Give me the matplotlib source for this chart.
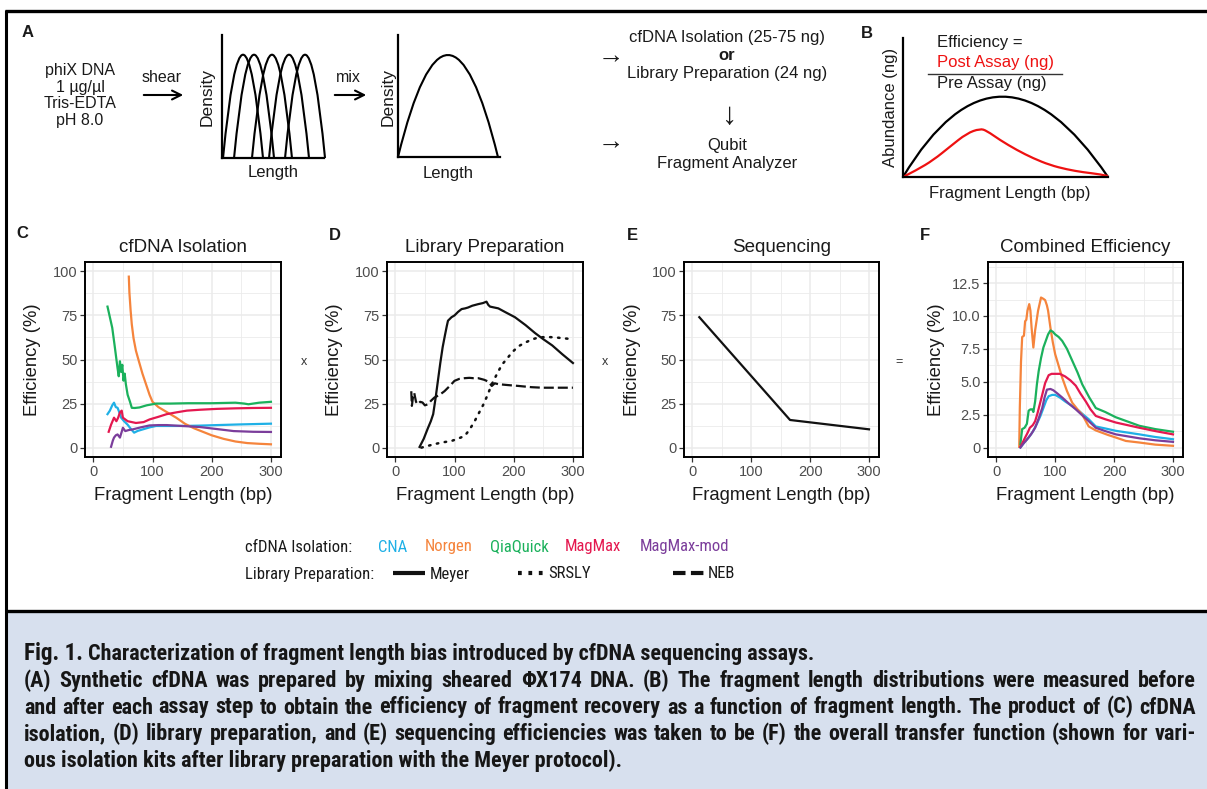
import numpy as np
import matplotlib
matplotlib.use('Agg')
import matplotlib.pyplot as plt
from matplotlib.path import Path
from matplotlib.patches import PathPatch, Rectangle
from matplotlib import font_manager as fm

# ---------------- data ----------------
iso_kits = ['CNA', 'Norgen', 'QiaQuick', 'MagMax', 'MagMax-mod']
iso_colors = ['#1fb0e6', '#f5843c', '#1bb15c', '#e4184f', '#7b3d9b']
lib_protocols = ['Meyer', 'SRSLY', 'NEB']

# Panel C: cfDNA isolation efficiency (%) vs fragment length (bp)
c_cna = [(24, 19), (28, 21), (32, 24), (35, 25.5), (38, 23), (41, 22.6), (44, 20), (47, 17), (52, 15),
         (58, 13), (64, 10.4), (69, 8.5), (75, 9.5), (84, 10.4), (95, 11.5), (106, 12.3), (130, 12.3),
         (152, 12.3), (180, 12.5), (209, 12.8), (250, 13.2), (300, 13.6)]
c_norgen = [(60, 97), (61, 88), (63, 78), (65, 70), (68, 62), (72, 55), (77, 49), (83, 42), (89, 36),
            (95, 30), (100, 26), (110, 23), (120, 21), (130, 19), (140, 17), (155, 13.5), (170, 11),
            (185, 9), (200, 7), (220, 5), (240, 3.5), (260, 2.6), (280, 2.2), (300, 1.9)]
c_qiaquick = [(24, 80), (28, 74), (32, 68), (36, 58), (41, 45), (43, 40.5), (45, 49), (47, 43), (49, 47),
              (51, 38), (53, 42), (55, 36), (58, 30), (62, 26), (65, 22.6), (70, 22.5), (78, 22.8),
              (90, 24), (106, 25), (130, 25), (160, 25.2), (200, 25.2), (240, 25.5), (255, 25),
              (262, 24.6), (280, 25.5), (300, 26)]
c_magmax = [(26, 9), (30, 13), (35, 17), (39, 15), (42, 17), (45, 20), (48, 21), (50, 17), (54, 16),
            (58, 15), (65, 14.5), (72, 14), (85, 14.5), (95, 16), (110, 17.5), (124, 19), (140, 20),
            (158, 21), (180, 21.5), (209, 22), (240, 22.3), (270, 22.5), (300, 22.6)]
c_magmaxmod = [(30, 0.5), (33, 4), (35, 5.7), (38, 7), (41, 7.5), (45, 5.7), (48, 9), (50, 11.3),
               (54, 9.4), (60, 10), (67, 10.4), (80, 11.5), (95, 12.6), (110, 12.8), (124, 12.8),
               (150, 12.3), (180, 11.7), (210, 10.5), (237, 9.4), (270, 9), (300, 8.9)]

# Panel D: library preparation efficiency (%)
d_meyer = [(41, 0.4), (48, 5), (55, 11), (60, 15), (64, 19), (68, 28), (72, 38), (76, 48), (80, 57),
           (84, 64), (87, 69), (89, 72), (95, 74), (100, 75), (106, 77), (112, 78.6), (118, 79),
           (123, 79.5), (130, 80.5), (140, 81.4), (148, 82), (154, 82.8), (157, 81), (160, 80),
           (167, 79.5), (174, 79), (185, 77), (202, 74), (220, 69.5), (236, 65), (250, 61.5),
           (265, 58), (282, 53), (300, 48)]
d_srsly = [(44, 0), (55, 1), (66, 2), (80, 3), (95, 3.8), (105, 5), (117, 6.6), (125, 10), (134, 15),
           (141, 19.5), (149, 24.6), (156, 30), (163, 36), (172, 42), (180, 47), (190, 51), (197, 54),
           (208, 57.5), (220, 59.7), (232, 61.5), (242, 62.5), (256, 62.8), (271, 62.5), (285, 62),
           (300, 61.5)]
d_neb = [(27, 32), (28, 23.7), (30, 29), (32, 31), (35, 26), (38, 24.6), (42, 26), (46, 25.6), (50, 24),
         (55, 24.6), (60, 26.5), (66, 28.4), (75, 30), (83, 32), (92, 35), (100, 37.9), (108, 39),
         (117, 39.4), (125, 39.6), (132, 39.4), (140, 39.4), (150, 38.5), (157, 37.5), (163, 35),
         (168, 36.5), (174, 36), (190, 35.5), (208, 35), (230, 34.3), (248, 34), (270, 34), (300, 34)]

# Panel E: sequencing efficiency (%)
e_seq = [(12, 74), (166, 15.7), (300, 10.4)]

# Panel F: combined efficiency (%)
f_cna = [(41, 0.0), (48, 0.4), (55, 0.76), (62, 1.2), (69, 1.8), (75, 2.4), (80, 3.0), (85, 3.6),
         (89, 3.9), (95, 4.0), (100, 4.0), (108, 3.8), (117, 3.5), (129, 3.15), (140, 2.8),
         (149, 2.45), (157, 2.15), (169, 1.6), (185, 1.45), (203, 1.27), (243, 1.0), (270, 0.8),
         (300, 0.63)]
f_norgen = [(39, 0.05), (40, 3.0), (42, 6.5), (44, 8.4), (47, 8.5), (49, 9.6), (51, 9.7), (53, 10.4),
            (56, 10.9), (58, 10.4), (60, 9.1), (63, 7.6), (66, 8.9), (69, 9.8), (71, 10.4), (74, 11.0),
            (76, 11.4), (80, 11.3), (83, 11.2), (86, 10.8), (88, 10.4), (92, 9.1), (96, 8.0),
            (100, 7.1), (106, 6.2), (112, 5.3), (120, 4.3), (129, 3.4), (138, 2.9), (146, 2.5),
            (157, 1.6), (169, 1.3), (175, 1.2), (190, 0.95), (203, 0.76), (220, 0.5), (243, 0.38),
            (270, 0.22), (300, 0.13)]
f_qiaquick = [(41, 0.25), (44, 1.4), (48, 1.5), (52, 1.8), (55, 2.8), (58, 2.9), (61, 2.9), (63, 2.7),
              (66, 3.5), (69, 4.8), (72, 5.8), (76, 6.8), (80, 7.6), (84, 8.1), (88, 8.6), (92, 8.9),
              (96, 8.8), (100, 8.6), (106, 8.4), (112, 8.1), (120, 7.5), (129, 6.6), (138, 5.7),
              (146, 4.8), (158, 3.8), (169, 3.0), (185, 2.7), (203, 2.3), (243, 1.65), (270, 1.4),
              (300, 1.2)]
f_magmax = [(41, 0.05), (45, 0.4), (49, 0.76), (53, 1.1), (57, 1.5), (62, 1.7), (66, 2.0), (70, 2.6),
            (74, 3.3), (78, 4.0), (83, 4.9), (89, 5.5), (94, 5.6), (100, 5.6), (108, 5.6), (117, 5.4),
            (126, 5.1), (135, 4.7), (143, 4.1), (152, 3.5), (160, 2.9), (169, 2.4), (185, 2.15),
            (203, 1.9), (243, 1.5), (270, 1.25), (300, 1.0)]
f_magmaxmod = [(41, 0.0), (46, 0.3), (52, 0.6), (59, 1.0), (66, 1.5), (72, 2.2), (78, 3.0), (82, 3.8),
               (86, 4.4), (92, 4.45), (97, 4.35), (104, 4.1), (112, 3.8), (123, 3.35), (135, 2.9),
               (146, 2.45), (157, 2.0), (169, 1.5), (185, 1.25), (203, 1.0), (243, 0.7), (270, 0.55),
               (300, 0.43)]

# Panel A / B schematic shapes (normalised units)
shear_centers = [0.206, 0.314, 0.490, 0.657, 0.814]
shear_halfwidth = 0.196
shear_peak = 0.84
mix_center, mix_halfwidth, mix_peak = 0.49, 0.49, 0.836
b_pre_start, b_pre_control, b_pre_end = (0, 0), (47, 115.6), (100, 0)
b_post = [(0, 0), (6.7, 5.0), (14.8, 12.2), (22.9, 21.8), (31.1, 31.4), (37.6, 34.8), (40.8, 33.3),
          (47.3, 26.6), (55.5, 19.4), (63.6, 13.4), (71.7, 8.6), (79.8, 5.5), (87.9, 3.4),
          (96.1, 2.0), (100, 0.7)]

caption_lines = [
    "(A) Synthetic cfDNA was prepared by mixing sheared \u03a6X174 DNA. (B) The fragment length distributions were measured before",
    "and after each assay step to obtain the efficiency of fragment recovery as a function of fragment length. The product of (C) cfDNA",
    "isolation, (D) library preparation, and (E) sequencing efficiencies was taken to be (F) the overall transfer function (shown for vari-",
    "ous isolation kits after library preparation with the Meyer protocol).",
]
caption_title = "Characterization of fragment length bias introduced by cfDNA sequencing assays."

# ---------------- figure ----------------
plt.rcParams['font.family'] = ['Liberation Sans', 'DejaVu Sans']
W, H = 1207, 789
fig = plt.figure(figsize=(W / 100, H / 100), dpi=100)
fig.patch.set_facecolor('white')

ov = fig.add_axes([0, 0, 1, 1])
ov.set_xlim(0, W)
ov.set_ylim(H, 0)
ov.axis('off')

TXT = '#1a1a1a'

avail = {f.name for f in fm.fontManager.ttflist}
narrow_candidates = ['Liberation Sans Narrow', 'Roboto Condensed', 'Open Sans Condensed',
                     'Noto Sans Condensed', 'DejaVu Sans Condensed']
NARROW = next((c for c in narrow_candidates if c in avail), None)


def px_axes(l, t, r, b):
    return fig.add_axes([l / W, 1 - b / H, (r - l) / W, (b - t) / H])


# frame and caption box
ov.add_patch(Rectangle((6, 611), W - 6, H - 611, facecolor='#d7e0ee', edgecolor='none'))
ov.plot([5, W], [11, 11], color='black', lw=2.4, solid_capstyle='butt')
ov.plot([6, 6], [10, H], color='black', lw=2.2, solid_capstyle='butt')
ov.plot([5, W], [610.5, 610.5], color='black', lw=2.4, solid_capstyle='butt')


def sketch_axes(ax):
    ax.set_xlim(0, 1)
    ax.set_ylim(0, 1)
    for s in ['top', 'right']:
        ax.spines[s].set_visible(False)
    for s in ['left', 'bottom']:
        ax.spines[s].set_linewidth(1.6)
        ax.spines[s].set_color('black')
    ax.set_xticks([])
    ax.set_yticks([])
    ax.patch.set_alpha(0)


def parabola(ax, c, w, h, color='black', lw=1.5):
    p = Path([(c - w, 0), (c, 2 * h), (c + w, 0)], [Path.MOVETO, Path.CURVE3, Path.CURVE3])
    ax.add_patch(PathPatch(p, fc='none', ec=color, lw=lw, clip_on=False))


def smooth_path(points):
    # quadratic B-spline style: points act as control points, midpoints lie on the curve
    verts = [points[0]]
    codes = [Path.MOVETO]
    for k in range(1, len(points) - 1):
        mid = ((points[k][0] + points[k + 1][0]) / 2, (points[k][1] + points[k + 1][1]) / 2)
        if k == len(points) - 2:
            mid = points[-1]
        verts += [points[k], mid]
        codes += [Path.CURVE3, Path.CURVE3]
    return Path(verts, codes)


# ----- Panel A -----
ov.text(28, 32, 'A', fontsize=12, fontweight='bold', ha='center', va='center', color=TXT)
for txt, yy in zip(['phiX DNA', '1 \u00b5g/\u00b5l', 'Tris-EDTA', 'pH 8.0'], [70, 87, 103, 120]):
    ov.text(80, yy, txt, fontsize=11.5, ha='center', va='center', color=TXT)
ov.text(162, 77, 'shear', fontsize=11.5, ha='center', va='center', color=TXT)
ov.annotate('', xy=(186, 95), xytext=(141, 95),
            arrowprops=dict(arrowstyle='->', lw=1.5, color='black', mutation_scale=16))
ov.text(348, 77, 'mix', fontsize=11.5, ha='center', va='center', color=TXT)
ov.annotate('', xy=(369, 95), xytext=(332, 95),
            arrowprops=dict(arrowstyle='->', lw=1.5, color='black', mutation_scale=16))

axA1 = px_axes(222, 35, 324, 158)
sketch_axes(axA1)
for cc in shear_centers:
    parabola(axA1, cc, shear_halfwidth, shear_peak)
axA2 = px_axes(398, 35, 500, 157)
sketch_axes(axA2)
parabola(axA2, mix_center, mix_halfwidth, mix_peak)
for xx in [207, 388]:
    ov.text(xx, 97, 'Density', fontsize=12.5, rotation=90, ha='center', va='center', color=TXT)
ov.text(273, 172, 'Length', fontsize=12, ha='center', va='center', color=TXT)
ov.text(448, 173, 'Length', fontsize=12, ha='center', va='center', color=TXT)

ARW = ['Liberation Sans', 'DejaVu Sans']
ov.text(611, 56, '\u2192', fontsize=19, ha='center', va='center', color=TXT, family=ARW)
ov.text(611, 142, '\u2192', fontsize=19, ha='center', va='center', color=TXT, family=ARW)
ov.text(727, 37, 'cfDNA Isolation (25-75 ng)', fontsize=12, ha='center', va='center', color=TXT)
ov.text(727, 55, 'or', fontsize=12, fontweight='bold', ha='center', va='center', color=TXT)
ov.text(727, 73, 'Library Preparation (24 ng)', fontsize=12, ha='center', va='center', color=TXT)
ov.text(730, 116, '\u2193', fontsize=22, ha='center', va='center', color=TXT, family=ARW)
ov.text(727, 145, 'Qubit', fontsize=12, ha='center', va='center', color=TXT)
ov.text(727, 163, 'Fragment Analyzer', fontsize=12, ha='center', va='center', color=TXT)

# ----- Panel B -----
ov.text(867, 33, 'B', fontsize=12, fontweight='bold', ha='center', va='center', color=TXT)
axB = px_axes(903, 38, 1108, 177)
sketch_axes(axB)
axB.set_xlim(0, 100)
axB.set_ylim(0, 100)
axB.add_patch(PathPatch(Path([b_pre_start, b_pre_control, b_pre_end],
                             [Path.MOVETO, Path.CURVE3, Path.CURVE3]),
                        fc='none', ec='black', lw=1.6, clip_on=False))
axB.add_patch(PathPatch(smooth_path(b_post), fc='none', ec='#ee1111', lw=1.6, clip_on=False))
ov.text(890, 107, 'Abundance (ng)', fontsize=12, rotation=90, ha='center', va='center', color=TXT)
ov.text(1010, 193, 'Fragment Length (bp)', fontsize=12, ha='center', va='center', color=TXT)
ov.text(937, 42, 'Efficiency =', fontsize=12, ha='left', va='center', color=TXT)
ov.text(937, 62, 'Post Assay (ng)', fontsize=12, ha='left', va='center', color='#ee1111')
ov.plot([928, 1062], [74, 74], color='#333333', lw=1.0)
ov.text(937, 83, 'Pre Assay (ng)', fontsize=12, ha='left', va='center', color=TXT)


# ----- Panels C-F -----
def gg_axes(ax, title, ylim, yticks, ylabels, yminor):
    ax.set_xlim(-14, 317)
    ax.set_ylim(*ylim)
    ax.set_xticks([0, 100, 200, 300])
    ax.set_xticks([50, 150, 250], minor=True)
    ax.set_yticks(yticks)
    ax.set_yticklabels(ylabels)
    ax.set_yticks(yminor, minor=True)
    ax.grid(True, which='major', color='#ebebeb', lw=1.1)
    ax.grid(True, which='minor', color='#ebebeb', lw=0.6)
    ax.set_axisbelow(True)
    ax.tick_params(which='major', direction='out', length=3.5, width=0.9, color='#333333',
                   labelcolor='#4d4d4d', labelsize=10.5, pad=2)
    ax.tick_params(which='minor', length=0)
    for s in ax.spines.values():
        s.set_linewidth(1.4)
        s.set_color('black')
    ax.set_title(title, fontsize=13.5, color=TXT, pad=7)
    ax.set_xlabel('Fragment Length (bp)', fontsize=13.3, color=TXT)
    ax.set_ylabel('Efficiency (%)', fontsize=13.3, color=TXT)
    ax.xaxis.set_label_coords(0.5, -0.153)
    ax.yaxis.set_label_coords(-0.222, 0.5)


pct_ticks = [0, 25, 50, 75, 100]
pct_labels = ['0', '25', '50', '75', '100']
pct_minor = [12.5, 37.5, 62.5, 87.5]

axC = px_axes(85, 262, 281, 457)
gg_axes(axC, 'cfDNA Isolation', (-5.3, 105.3), pct_ticks, pct_labels, pct_minor)
for series, col in zip([c_cna, c_norgen, c_qiaquick, c_magmax, c_magmaxmod], iso_colors):
    xs, ys = zip(*series)
    axC.plot(xs, ys, color=col, lw=1.6)

axD = px_axes(387, 262, 583, 457)
gg_axes(axD, 'Library Preparation', (-5.3, 105.3), pct_ticks, pct_labels, pct_minor)
xs, ys = zip(*d_meyer)
axD.plot(xs, ys, color='#111111', lw=1.6)
xs, ys = zip(*d_srsly)
axD.plot(xs, ys, color='#111111', lw=1.8, ls=(0, (0.6, 2.6)), dash_capstyle='round')
xs, ys = zip(*d_neb)
axD.plot(xs, ys, color='#111111', lw=1.6, ls=(0, (4.5, 1.8)))

axE = px_axes(684, 262, 879, 457)
gg_axes(axE, 'Sequencing', (-5.3, 105.3), pct_ticks, pct_labels, pct_minor)
xs, ys = zip(*e_seq)
axE.plot(xs, ys, color='#111111', lw=1.6)

axF = px_axes(988, 262, 1183, 457)
gg_axes(axF, 'Combined Efficiency', (-0.72, 14.1), [0, 2.5, 5, 7.5, 10, 12.5],
        ['0', '2.5', '5.0', '7.5', '10.0', '12.5'], [1.25, 3.75, 6.25, 8.75, 11.25, 13.75])
for series, col in zip([f_cna, f_norgen, f_qiaquick, f_magmax, f_magmaxmod], iso_colors):
    xs, ys = zip(*series)
    axF.plot(xs, ys, color=col, lw=1.6)

for letter, (lx, ly) in zip('CDEF', [(22, 233), (335, 235), (632, 235), (925, 235)]):
    ov.text(lx, ly, letter, fontsize=12, fontweight='bold', ha='center', va='center', color=TXT)
ov.text(304, 362, 'x', fontsize=9, ha='center', va='center', color='#333333')
ov.text(605, 362, 'x', fontsize=9, ha='center', va='center', color='#333333')
ov.text(899, 362, '=', fontsize=9, ha='center', va='center', color='#333333')

# ----- legend rows -----
if NARROW is not None:
    leg_kw = dict(fontsize=12, family=[NARROW, 'Liberation Sans', 'DejaVu Sans'])
else:
    leg_kw = dict(fontsize=10.2)
ov.text(245, 547, 'cfDNA Isolation:', ha='left', va='center', color=TXT, **leg_kw)
for name, col, lx in zip(iso_kits, iso_colors, [378, 425, 490, 565, 640]):
    ov.text(lx, 547, name, ha='left', va='center', color=col, **leg_kw)
ov.text(245, 574, 'Library Preparation:', ha='left', va='center', color=TXT, **leg_kw)
ov.plot([393, 425], [573, 573], color='#111111', lw=3.0, solid_capstyle='butt')
ov.plot([518, 543], [573, 573], color='#111111', lw=3.0, ls=(0, (0.9, 1.6)), dash_capstyle='butt')
ov.plot([673, 704], [573, 573], color='#111111', lw=3.0, ls=(0, (3.0, 1.3)), dash_capstyle='butt')
for name, lx in zip(lib_protocols, [430, 548, 708]):
    ov.text(lx, 574, name, ha='left', va='center', color=TXT, **leg_kw)

# ----- caption -----
CAP_FONT = NARROW if NARROW is not None else 'Liberation Sans'
cap_kw = dict(family=[CAP_FONT, 'DejaVu Sans'], fontweight='bold', color='#161616',
              ha='left', va='baseline')
renderer = fig.canvas.get_renderer()


def text_w(s, size):
    t = ov.text(0, 0, s, fontsize=size, **cap_kw)
    w = t.get_window_extent(renderer).width
    t.remove()
    return w


LEFT, RIGHT = 24, 1196
size = min(10 * 1150 / text_w(ln, 10) for ln in caption_lines[:3])
size = max(min(size, 16.5), 10)
baselines = [660, 687, 713.5, 740, 767]

ttl = ov.text(LEFT, baselines[0], 'Fig. 1.', fontsize=size * 1.05, **cap_kw)
w_fig = ttl.get_window_extent(renderer).width
ov.text(LEFT + w_fig + text_w(' ', size), baselines[0], caption_title, fontsize=size, **cap_kw)

for i, line in enumerate(caption_lines):
    yb = baselines[i + 1]
    if i < 3:
        words = line.split(' ')
        widths = [text_w(wd, size) for wd in words]
        gap = max((RIGHT - LEFT - sum(widths)) / (len(words) - 1), 2.0)
        xx = LEFT
        for wd, wdw in zip(words, widths):
            ov.text(xx, yb, wd, fontsize=size, **cap_kw)
            xx += wdw + gap
    else:
        ov.text(LEFT, yb, line, fontsize=size, **cap_kw)

fig.savefig('out.png', dpi=100, facecolor='white')
